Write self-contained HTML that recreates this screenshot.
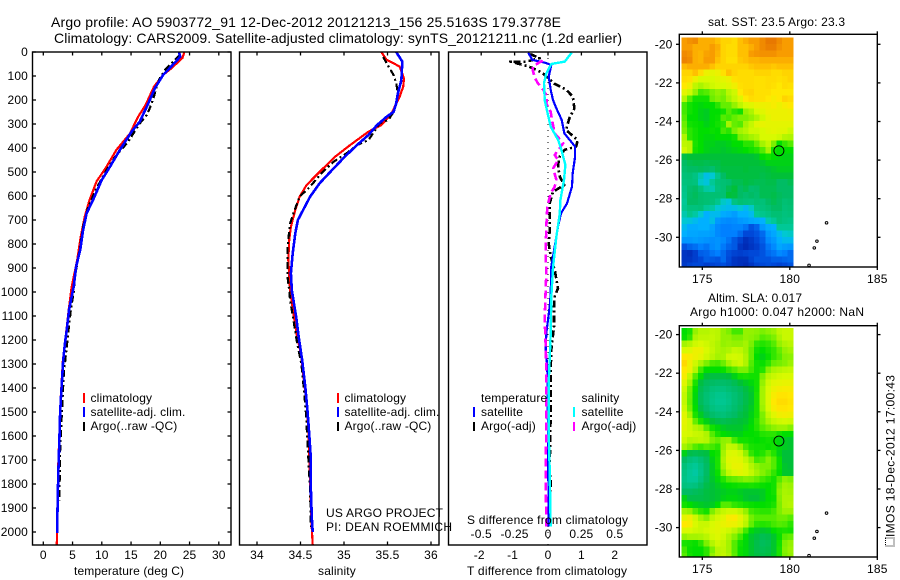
<!DOCTYPE html>
<html lang="en">
<head>
<meta charset="utf-8">
<title>Argo profile 5903772_91</title>
<style>
html,body{margin:0;padding:0;background:#fff;}
svg{display:block;font-family:"Liberation Sans",sans-serif;font-size:12px;fill:#000;letter-spacing:0.15px;}
.t{font-size:14px;letter-spacing:0;}
.fit{letter-spacing:0;}
</style>
</head>
<body>
<svg id="chart" xmlns="http://www.w3.org/2000/svg" width="900" height="580" viewBox="0 0 900 580">
<rect x="0" y="0" width="900" height="580" fill="#fff"/>
<text class="t" x="51" y="27" textLength="510">Argo profile: AO 5903772_91 12-Dec-2012 20121213_156 25.5163S 179.3778E</text>
<text class="t" x="54" y="43" textLength="568">Climatology: CARS2009. Satellite-adjusted climatology: synTS_20121211.nc (1.2d earlier)</text>
<g id="layer"></g>

<g>
<rect x="83" y="393" width="2" height="10" fill="#f00"/>
<text x="90.5" y="402">climatology</text>
<rect x="83" y="407" width="2" height="10" fill="#00f"/>
<text x="90.5" y="416">satellite-adj. clim.</text>
<rect x="83" y="422" width="2" height="9" fill="#000"/>
<text x="90.5" y="430">Argo(..raw -QC)</text>
</g>
<g>
<rect x="337" y="393" width="2" height="10" fill="#f00"/>
<text x="344.5" y="402">climatology</text>
<rect x="337" y="407" width="2" height="10" fill="#00f"/>
<text x="344.5" y="416">satellite-adj. clim.</text>
<rect x="337" y="422" width="2" height="9" fill="#000"/>
<text x="344.5" y="430">Argo(..raw -QC)</text>
</g>
<text class="fit" x="326" y="517" textLength="117">US ARGO PROJECT</text>
<text class="fit" x="326" y="531" textLength="126">PI: DEAN ROEMMICH</text>
<g>
<text x="481" y="402">temperature</text>
<rect x="473" y="407" width="2" height="10" fill="#00f"/>
<text x="481" y="416">satellite</text>
<rect x="473" y="422" width="2" height="9" fill="#000"/>
<text x="481" y="430">Argo(-adj)</text>
<text x="581.5" y="402">salinity</text>
<rect x="573" y="407" width="2" height="10" fill="#0ff"/>
<text x="581.5" y="416">satellite</text>
<rect x="573" y="422" width="2" height="9" fill="#f0f"/>
<text x="581.5" y="430">Argo(-adj)</text>
</g>
<text class="fit" x="74" y="575" textLength="110">temperature (deg C)</text>
<text x="337" y="575" text-anchor="middle">salinity</text>
<text class="fit" x="467" y="524" textLength="161">S difference from climatology</text>
<text class="fit" x="467" y="575" textLength="160">T difference from climatology</text>
<text class="fit" x="708" y="26" textLength="137">sat. SST: 23.5 Argo: 23.3</text>
<text class="fit" x="708" y="302" textLength="94">Altim. SLA: 0.017</text>
<text class="fit" x="690" y="316" textLength="174">Argo h1000: 0.047 h2000: NaN</text>
<g>
<rect x="885.5" y="538" width="8.5" height="8" fill="none" stroke="#000" stroke-width="1" stroke-dasharray="1 1"/>
<text class="fit" transform="translate(894.5 537) rotate(-90)" textLength="162">IMOS 18-Dec-2012 17:00:43</text>
</g>
</svg>
<script>
// ---- temperature panel data ----
const tBlueDepth=[0,20,60,95,150,228,290,332,408,478,533,617,672,742,825,894,978,1075,1160,1215,1285,1370,1450,1520,1615,1730,1825,1950,2005];
const tBlueValue=[23.2,23.4,21.9,20.5,19.1,17.7,16.5,15.1,13.1,11.4,10,8.5,7.4,6.8,6.3,5.6,5.2,4.4,4,3.7,3.4,3.2,3,2.85,2.75,2.6,2.5,2.4,2.4];
const tRedDepth=[0,25,47,68,95,145,220,270,340,408,478,540,617,686,770,867,978,1075,1160,1285,1450,1730,2000,2054];
const tRedValue=[24.1,23.8,22.8,21.9,20.5,18.9,17.5,16.2,14.8,12.5,10.8,9.1,7.9,7.1,6.4,5.8,4.85,4.35,3.95,3.35,2.95,2.55,2.35,2.3];
const tArgoDepth=[12,40,75,110,150,186,228,262,297,374,436,492,568,644,728,825,936,1000,1075,1160,1230,1340,1465,1675,1868];
const tArgoValue=[23.4,22.2,20.8,19.9,19.3,18.9,18.3,17.7,16.5,14.5,12.3,10.8,9.1,7.7,6.8,6.2,5.4,5.2,4.7,4.3,4,3.5,3.25,2.85,2.75];
// ---- salinity panel data ----
const sBlueDepth=[0,40,117,172,214,249,270,304,346,388,436,485,547,603,672,700,755,839,922,992,1105,1190,1285,1395,1495,1590,1685,1825,1940,2000];
const sBlueValue=[35.6,35.67,35.66,35.62,35.6,35.57,35.49,35.38,35.28,35.15,35.01,34.88,34.72,34.61,34.51,34.47,34.44,34.41,34.39,34.4,34.45,34.48,34.52,34.555,34.58,34.6,34.617,34.62,34.63,34.64];
const sRedDepth=[0,33,47,61,110,144,186,214,255,304,332,388,436,492,554,603,658,728,783,867,992,1090,1175,1258,1370,1465,1575,1770,1880,2000,2054];
const sRedValue=[35.43,35.49,35.57,35.64,35.69,35.68,35.64,35.6,35.55,35.43,35.28,35.07,34.9,34.74,34.57,34.49,34.44,34.39,34.37,34.36,34.38,34.42,34.455,34.505,34.54,34.57,34.59,34.61,34.617,34.632,34.64];
const sArgoDepth=[20,47,96,130,172,214,249,283,297,367,388,422,457,505,561,603,651,714,811,936,992,1033,1118,1200,1300,1410,1507,1690,1825,1980];
const sArgoValue=[35.45,35.49,35.57,35.6,35.62,35.6,35.57,35.51,35.41,35.28,35.15,35.03,34.88,34.74,34.61,34.49,34.44,34.38,34.35,34.35,34.37,34.38,34.42,34.455,34.51,34.54,34.563,34.59,34.61,34.62];
// ---- difference panel data ----
const dtSatDepth=[3,33,44,54,103,158,200,235,283,339,394,436,506,561,631,672,728,811,894,1006,1061,1172,1241,1311,1589,1977];
const dtSatValue=[-0.59,-0.47,-0.1,0.1,0.02,0.08,0.15,0.25,0.41,0.49,0.81,0.81,0.74,0.72,0.57,0.39,0.3,0.2,0.1,0.08,0.05,-0.05,-0.07,-0.02,0,0.02];
const dsSatDepth=[3,40,50,89,130,200,249,311,367,408,471,533,617,672,769,894,1019,1172,1380,1589,1727,1977];
const dsSatValue=[0.177,0.126,0.025,-0.013,-0.03,-0.025,-0.005,0.02,0.076,0.1,0.13,0.12,0.093,0.088,0.063,0.038,0.025,0.02,0.005,0.005,0.012,0.02];
const dsArgoDepth=[36,58,75,110,130,155,186,214,249,283,339,380,429,450,485,533,561,589,644,728,839,922,1033,1116,1214,1311,1589,1727,1977];
const dsArgoValue=[-0.04,-0.11,-0.115,-0.096,-0.076,-0.038,-0.005,-0.013,0.02,0.03,0.05,0.114,0.05,0.076,0.038,0.063,0.05,0.02,-0.005,-0.013,-0.018,-0.013,-0.02,-0.025,-0.018,-0.013,-0.013,-0.018,-0.013];
const dtArgoDepth=[8,26,40,40,58,68,89,133,156,186,235,276,325,367,394,408,436,471,519,554,582,631,686,742,797,853,908,985,1019,1061,1144,1241,1325,1491,1741,1797,1866,1977];
const dtArgoValue=[-0.54,-0.25,-0.64,-1.13,-0.64,-0.44,-0.15,0.2,0.54,0.74,0.79,0.64,0.54,0.89,0.84,0.49,0.35,0.3,0.35,0.49,0.15,0.05,0.05,0.05,0.02,0.08,0.2,0.3,0.2,0.18,0.18,0.1,0.08,0.08,0.05,0.08,0.06,0.05];
// ---- ticks ----
const depthTicks=[0,100,200,300,400,500,600,700,800,900,1000,1100,1200,1300,1400,1500,1600,1700,1800,1900,2000];
const tempTicks=[0,5,10,15,20,25,30];
const salTicks=[34,34.5,35,35.5,36];
const dtTicks=[-2,-1,0,1,2];
const dtTickLabels=["-2","-1","0","1","2"];
const dsTicks=[-0.5,-0.25,0,0.25,0.5];
const dsTickLabels=["-0.5","-0.25","0","0.25","0.5"];
const lonTicks=[175,180,185];
const latTicks=[20,22,24,26,28,30];
// ---- profile location and islands ----
const argoLon=179.3778;
const argoLat=25.5163;
const islandLon=[182.1,181.55,181.4,181.1];
const islandLat=[29.25,30.2,30.55,31.45];
// ---- SST map values (colour-scale units, north to south) ----
const sstRows=[
[12,12.3,12.5,11.5,11.5,11.5,11,10.5,10.5,10.3,11,11.5,12,12,12.5,13,13,12.5,12,12],
[12,12,11.5,11.5,11.5,12,11.5,10.5,10.3,10.3,11,11,11.5,12,12.5,12.8,12.8,12.3,12,12],
[12.5,12.3,11.5,11.3,11.8,12,11.3,10.5,10.3,10.3,11,11,12,12.2,12.3,12.3,12.3,12,12,12],
[12.7,12.5,11.5,11.3,12,12,11,10.5,10.2,10.2,10.8,11,11.3,11.3,11.5,11.5,11.5,11.5,11.5,11.5],
[11.2,11.5,11.5,11.5,11.5,11,10.5,10.5,10.5,10.5,10.5,10.5,10.8,11,11,11,10.8,11,11,11],
[10.5,10.5,11,10.3,9.5,9.3,9.5,10.2,11,10.5,10.3,10.3,10.3,10.5,10.5,10.5,10.3,10.3,10.5,10.5],
[10.3,10.2,9.5,9,9,9,9.2,9.3,9.5,10.2,10.3,10.3,10.3,10.2,10.2,10.3,10.3,10.2,10.3,10.5],
[10,9.6,8.5,8.1,8.5,8.8,9,9,9.2,9.6,10.2,10.3,10.3,10.2,10.2,10.3,10.2,10,10.3,10.2],
[9.3,8.8,7.8,6.8,7,7.5,7.8,7.6,8.4,8.8,10,10.4,10.5,10.2,10.2,10.2,10,10,10,10],
[8.3,7,6.2,6.2,6.2,7.3,7.6,7.4,8,8.6,9.2,10,10.3,10.2,10.2,10,9.8,10,10.5,10.3],
[6.8,6.2,6,5.9,6,6,6.5,7.2,7.2,7.8,8.5,9,9.2,9.5,9.5,9.6,9.8,9.5,9.8,10],
[6.8,6.2,6,5.8,5.7,6,6,6.2,7,6.5,6.2,7.8,8.2,9,9.2,9.5,9.5,9.5,9.5,9.6],
[7,6,6,5.8,5.7,6,6.1,7,6.8,7.2,7.5,7.5,7.8,8.2,8.8,9.3,9.5,9.5,9.5,9.5],
[7.3,6.2,6.1,6,5.8,6,6.2,6.5,8,7.2,7,8,8.6,9.2,9.4,9.3,9.3,9.3,9.3,9.3],
[7.5,6.5,6.2,6,6,6.1,6,6.8,6.5,7.5,8,8.3,8.8,8.8,9,9.2,9.3,9.2,9.2,8.8],
[8.2,6.5,6.2,6,5.9,5.9,6,6,6,6.2,7.5,7.7,8,8.3,9,9,9,8.8,8.3,8.2],
[8.5,8.3,6.3,6,5.8,5.8,5.7,5.7,5.8,6,6,6.5,6.5,7.2,8,8.6,7.5,6,6.6,7],
[8.8,8.3,6.2,6,5.8,5.7,5.7,5.6,5.7,5.8,5.9,6,6.2,6.4,7,8,6.2,6,6,6],
[5.3,5.5,5.5,5.5,5.5,5.5,5.5,5.5,5.5,5.5,5.5,5.5,5.5,5.6,6,6.2,6,5.9,5.8,5.8],
[5,5.2,5.3,5.3,5.2,5.3,5.3,5.5,5.5,5.5,5.5,5.5,5.5,5.5,5.6,5.8,5.8,5.8,5.8,5.8],
[4.8,5,5,5.1,5,4.8,5.2,5.4,5.4,5.4,5.4,5.5,5.4,5.4,5.4,5.5,5.6,5.7,5.7,5.7],
[4.6,4.7,4.4,3.8,3.3,3.5,4.2,5,5.4,5.4,5.4,5.4,5.4,5.4,5.3,5.4,5.5,5.5,5.5,5.5],
[4.5,4.6,4.5,3.6,3.4,4,4.6,4.7,4.8,5.2,5.2,5.4,5.3,5.2,5.2,5.3,5.3,5,5,5.2],
[4.3,4.8,5,4.5,3.9,3.8,4.5,4.7,5.2,5.5,5,5.2,4.8,4.9,5.2,5.2,5.2,5,5,5],
[4.2,4.9,5.1,4.8,4.7,4.7,4.7,4.7,5.5,5.4,5,4.8,5,4.8,5.2,5.2,5.3,5.1,5,5],
[4,5,5,4.8,4.7,4.6,4.2,3.6,3.4,4.4,4.7,4.6,4.5,4.7,4.6,5,5.2,5,4.7,4.8],
[4.1,4.5,4.5,4.6,4,3.9,3.5,3.3,3.2,3.3,3.5,3.2,3.6,4.4,4.5,4.7,5,5,4.6,4.7],
[3.8,4.2,3.9,3.5,3,3.2,3.2,2.9,2.8,2.6,3,3,3.2,4,4.2,4.4,4.7,4.7,4.5,4.6],
[3.5,3.4,3.2,3,3,3.3,2.5,2.3,2.2,2.3,2.5,2.6,2.8,2.9,3,3.8,4,4.6,4.4,4.3],
[3.2,2.9,2.9,3,3,2.7,2.2,2,2,2.1,2.1,1.8,1.2,1.5,2.5,2.9,3,4,4,4],
[3,2.8,2.8,2.7,2.7,2.6,2.2,2,2,2,1.6,1,1,1.2,1.6,2.5,2.8,3.2,3.5,3.6],
[2.5,2.5,2.6,2.5,2.4,2.3,2.4,2.2,1.8,1.3,0.9,0.5,0.7,1,1.4,2.2,2.5,3,3.2,3.2],
[1.2,1.5,1.7,2,1.8,2.2,2.4,1.9,1.5,1.3,0.6,0.4,0.6,0.8,1.2,1.8,2.2,2.8,2.6,2.5],
[0.6,0.5,0.8,1.4,1.5,1.8,2,1.6,1.1,0.9,0.8,0.9,1,1,1.2,1.6,1.8,2.2,2,1.6],
[0.6,0.6,0.8,1,1.4,1.3,1.2,1.6,1,0.6,0.5,0.5,0.9,1.2,1.2,1.2,1.4,1.4,1.5,1.6],
[0.7,0.9,1,1,0.8,0.9,1,1.1,0.9,0.6,0.5,0.4,0.6,0.9,1,1.1,1,0.9,1,1.2]
];
// ---- SLA map values (colour-scale units, north to south) ----
const slaRows=[
[6,6.3,7.8,8.3,8.3,8.5,8.4,7.8,7.5,6.8,6.8,7.8,7.8,7.7,7.5,7.7,7.9,8.5,8.7,8.7],
[6.1,6.6,8.2,8.5,8.5,8.6,8.4,7.8,7.8,7.5,7.5,7.8,7.7,7.5,7,7.2,7.5,8.2,8.7,8.7],
[8,8.3,8.8,9,8.8,8.5,8.2,7.8,7.9,7.8,7.8,8,7.5,6.6,6.4,6.6,7,7.8,8.2,8.4],
[9,9.1,9.5,9.5,9,8.6,8.2,8,8.2,8.6,8.5,8,7.2,6.2,6,6.3,6.6,7.2,7.8,8],
[10,9.8,9.5,9.3,8.8,8.4,8,8.1,8.8,8.9,8.8,8.2,7.2,6,5.8,6.1,6.6,7,7.6,7.7],
[10.4,9.6,8.8,8.1,7.5,6.9,6.8,7.3,8,8.6,8.8,8.2,7,6.2,6.1,6.5,7.2,7.4,7.6,7.9],
[10,9.5,8.3,6.8,6,6,6,6.1,6.6,7,7.5,7.5,6.8,6.2,6.4,7.6,8.1,8.3,8.5,8.6],
[9.8,8.6,7,6,5.5,5.4,5.4,5.4,5.5,5.8,6.2,6.3,6.2,6.2,7.5,8.4,8.7,8.9,9,9],
[9.2,8,6.3,5.4,5.1,5,4.9,4.9,5,5.2,5.5,5.7,5.9,6.2,7.8,8.8,9.2,9.3,9.4,9.4],
[8.8,7.4,6,5.2,4.9,4.6,4.5,4.5,4.7,4.9,5.1,5.4,5.7,6.2,8,9,9.5,9.7,9.8,9.8],
[8.6,7.3,5.9,5.1,4.7,4.4,4.2,4.2,4.4,4.7,5,5.3,5.6,6.3,8,9.1,9.8,10.1,10.1,10],
[8.6,7.2,5.9,5.1,4.7,4.3,4.1,4.1,4.3,4.7,5,5.3,5.6,6.3,8,9.1,10,10.3,10.3,10.1],
[8.8,7.4,6,5.3,4.9,4.5,4.3,4.3,4.5,4.8,5.1,5.4,5.7,6.3,7.9,9,9.8,10.1,10.1,10],
[9.2,8,6.3,5.7,5.2,4.9,4.7,4.6,4.8,5,5.3,5.5,5.8,6.3,7.5,8.6,9.2,9.6,9.7,9.6],
[9.3,8.8,7.2,6.3,5.8,5.5,5.3,5.2,5.3,5.4,5.5,5.6,5.9,6.5,7.4,8.1,8.6,8.8,8.9,8.8],
[9.2,8.8,8.3,8,7,6.2,5.9,5.7,5.6,5.6,5.6,5.8,6,6.4,7,7.4,7.7,7.9,7.9,7.6],
[9,8.9,8.7,8.6,8.2,7,6.3,6,5.9,5.8,5.8,6,6,6.1,6.4,6.5,6.5,6.2,6,6],
[8.8,8.3,8.4,8.5,8.3,7.5,7.2,7.7,7.8,6.8,6.2,6.2,6.1,6,6.1,6.2,6.1,5.9,5.7,5.6],
[8,7.6,7,6.7,7,6.8,6.5,7.8,8.6,8.5,7.8,6.8,6.3,6.2,6.2,6.1,6.2,5.9,5.7,5.6],
[5.8,5.3,5.2,5.3,5.4,6,6.2,8,9,9.1,8.8,7.8,6.6,6.2,6.4,6.9,6.4,5.8,5.5,5.5],
[5,4.6,4.4,4.7,5.1,5.8,6.3,8.2,9.2,9.3,9.2,8.6,7.8,6.8,7,7.6,7,6.1,5.5,5.5],
[4.6,4.2,4,4.4,5,5.7,6.3,8,9,9.4,9.4,9,8.3,7.8,7.5,7.5,7,6.1,5.6,5.5],
[4.4,4,3.9,4.3,5,5.7,6.1,7.6,8.6,9,9.2,9,8.6,8,7.6,7.2,6.6,6,5.6,5.6],
[4.3,4,4,4.5,5.1,5.6,5.9,6.4,7,7.2,7.4,7.6,7.5,7.2,6.8,6.5,6.2,7,7.7,7.5],
[4.5,4.4,4.5,4.9,5.3,5.5,5.7,5.9,6,6.1,6.2,6.2,6.3,6.2,6.1,6,6.2,7.5,8,7.9],
[5,5,5.1,5.2,5.4,5.5,5.6,5.7,5.8,5.8,5.7,5.6,5.6,5.6,5.7,6,6.2,7.7,8.1,8],
[5.8,5.3,5.3,5.3,5.4,5.5,5.6,5.8,5.9,5.9,5.8,5.6,5.5,5.5,5.7,6,6.1,7.6,8.2,8.2],
[6.2,6,5.8,5.7,5.6,5.7,6,7,7,6.6,6.4,6.2,6.1,6,6,6.1,6.3,7.5,8.2,8.3],
[8,7.8,7,6.5,6.2,7.5,8.2,8.6,8.8,8.8,8.5,7.8,6.8,6.6,6.5,6.5,6.8,7.5,7.9,7.9],
[9.3,9.6,8.8,8,7.6,8.5,8.9,9.2,9.8,9.9,9.3,8.6,7.4,7,7,7,7,7.3,7.3,7],
[10,9.8,9,8.7,8.7,9,9.2,9.4,9.6,9.5,9.1,8.4,7.2,6.5,6.4,6.5,6.8,7,6.9,6.5],
[9.1,9,8.8,8.7,8.9,9.1,9.2,9,8.8,8.4,7.8,6.8,5.9,5.7,5.6,5.7,6,6.2,6.3,6.2],
[7.8,8,8,8.1,8.4,8.9,9.1,8.8,8.2,7.6,6.8,6,5.6,5.4,5.2,5.3,5.6,6.1,7,7.2],
[6.3,6.2,6.1,6.5,7.5,8.3,8.8,8.6,8,7,6.2,5.9,5.6,5.3,5.1,5.2,5.6,6.2,7.5,7.8],
[6.8,6.1,6,6,6.5,7.5,8.4,8.5,8,7,6.1,5.9,5.6,5.3,5.2,5.3,5.6,6.3,7.6,7.9],
[7,6.2,6,6,6.5,7.8,8.4,8.6,8.2,7.1,6.1,5.9,5.6,5.4,5.3,5.4,5.7,6.3,7.5,7.8]
];

const NS='http://www.w3.org/2000/svg';
const layer=document.getElementById('layer');
function make(tag,attrs,parent){
  const el=document.createElementNS(NS,tag);
  for(const k in attrs){el.setAttribute(k,attrs[k]);}
  (parent||layer).appendChild(el);
  return el;
}
// axis functions
const yDepth=d=>52+0.24*d;
const xTemp=v=>43.3+5.85*v;
const xSal=v=>257+87*(v-34);
const xDT=v=>548+33.4*v;
const xDS=v=>548+133.6*v;

function drawLine(name,depths,values,xf,color,width,dash){
  const pts=depths.map((d,i)=>xf(values[i]).toFixed(1)+','+yDepth(d).toFixed(1)).join(' ');
  const el=make('polyline',{points:pts,fill:'none',stroke:color,'stroke-width':width,'shape-rendering':'crispEdges','stroke-linejoin':'round'});
  if(dash){el.setAttribute('stroke-dasharray',dash);}
  
  
}
function seg(name,x1,y1,x2,y2){
  const el=make('line',{x1:x1,y1:y1,x2:x2,y2:y2,stroke:'#000','stroke-width':1.3});
  
  
}
function label(name,x,y,txt,anchor){
  const el=make('text',{x:x,y:y,'text-anchor':anchor||'middle'});
  el.textContent=txt;
  
  
}
function box(name,l,t,r,b){
  const el=make('rect',{x:l,y:t,width:r-l,height:b-t,fill:'none',stroke:'#000','stroke-width':1.4});
  
  
}
const TOP=52,BOT=545;

// panel 1: temperature
drawLine('temperature-climatology-line',tRedDepth,tRedValue,xTemp,'#f00',2.2);
drawLine('temperature-argo-line',tArgoDepth,tArgoValue,xTemp,'#000',2.2,'7 3 2 3');
drawLine('temperature-satellite-line',tBlueDepth,tBlueValue,xTemp,'#00f',2.6);
box('temperature-panel-frame',32.5,TOP,231,BOT);
depthTicks.forEach(d=>{
  seg('depth-tick',32.5,yDepth(d),36,yDepth(d));
  seg('depth-tick-right',227.5,yDepth(d),231,yDepth(d));
  label('depth-tick-label',28,yDepth(d)+4,String(d),'end');
});
tempTicks.forEach(v=>{
  seg('temperature-tick-top',xTemp(v),TOP,xTemp(v),TOP+3.5);
  seg('temperature-tick-bottom',xTemp(v),BOT,xTemp(v),BOT-3.5);
  label('temperature-tick-label',xTemp(v),559,String(v));
});

// panel 2: salinity
drawLine('salinity-climatology-line',sRedDepth,sRedValue,xSal,'#f00',2.2);
drawLine('salinity-argo-line',sArgoDepth,sArgoValue,xSal,'#000',2.2,'7 3 2 3');
drawLine('salinity-satellite-line',sBlueDepth,sBlueValue,xSal,'#00f',2.6);
box('salinity-panel-frame',239.5,TOP,439,BOT);
salTicks.forEach(v=>{
  seg('salinity-tick-top',xSal(v),TOP,xSal(v),TOP+3.5);
  seg('salinity-tick-bottom',xSal(v),BOT,xSal(v),BOT-3.5);
  label('salinity-tick-label',xSal(v),559,String(v));
});

// panel 3: differences
const zeroLine=make('line',{x1:xDT(0),y1:TOP,x2:xDT(0),y2:BOT,stroke:'#000','stroke-width':1,'stroke-dasharray':'1 5'});


drawLine('t-difference-argo-line',dtArgoDepth,dtArgoValue,xDT,'#000',2.6,'7 3 2 3');
drawLine('t-difference-satellite-line',dtSatDepth,dtSatValue,xDT,'#00f',2.2);
drawLine('s-difference-argo-line',dsArgoDepth,dsArgoValue,xDS,'#f0f',2.6,'8 4');
drawLine('s-difference-satellite-line',dsSatDepth,dsSatValue,xDS,'#0ff',2.4);
box('difference-panel-frame',448.5,TOP,647,BOT);
dtTicks.forEach((v,i)=>{
  seg('t-difference-tick',xDT(v),TOP,xDT(v),TOP+3.5);
  label('t-difference-tick-label',xDT(v)-(v<0?2:0),559,dtTickLabels[i]);
});
dsTicks.forEach((v,i)=>{
  label('s-difference-tick-label',xDS(v),538,dsTickLabels[i]);
});

// maps
const stopVals=[0,1,2,3,3.5,4,5,5.5,6,7,8,9,10,11,12,13];
const stopCols=[[0,24,160],[0,72,216],[0,128,255],[0,176,255],[0,200,210],[0,200,150],[0,188,100],[0,192,56],[0,222,0],[84,236,0],[164,244,0],[216,250,0],[255,232,0],[255,192,0],[248,156,0],[232,120,0]];
function colour(v){
  let i=0;
  while(i<stopVals.length-2&&v>stopVals[i+1]){i++;}
  const f=Math.max(0,Math.min(1,(v-stopVals[i])/(stopVals[i+1]-stopVals[i])));
  const c=stopCols[i].map((a,k)=>Math.round(a+(stopCols[i+1][k]-a)*f));
  return 'rgb('+c.join(',')+')';
}
function drawMap(prefix,rows,lat20y,top,bottom){
  const xLon=lon=>702.3+17.5*(lon-175);
  const yLat=lat=>lat20y+19.3*(lat-20);
  const lonStart=173.8,lonStep=0.32,latStart=19.65,latStep=1/3;
  rows.forEach((row,r)=>{
    row.forEach((v,c)=>{
      const last=c===row.length-1;
      const x0=xLon(lonStart+c*lonStep),x1=xLon(lonStart+(c+1)*lonStep)+(last?0:0.7);
      const y0=yLat(latStart+r*latStep),y1=Math.min(bottom,yLat(latStart+(r+1)*latStep)+0.7);
      const cell=make('rect',{x:x0.toFixed(2),y:y0.toFixed(2),width:(x1-x0).toFixed(2),height:(y1-y0).toFixed(2),fill:colour(v),'shape-rendering':'crispEdges'});
      
      
    });
  });
  islandLon.forEach((lon,i)=>{
    const isl=make('ellipse',{cx:xLon(lon),cy:yLat(islandLat[i]),rx:1.3,ry:1.2,fill:'none',stroke:'#000','stroke-width':1});
    
    
  });
  const mark=make('circle',{cx:xLon(argoLon),cy:yLat(argoLat),r:5,fill:'none',stroke:'#000','stroke-width':0.9});
  
  
  box(prefix+'-frame',679.3,top,877.3,bottom);
  lonTicks.forEach(lon=>{
    seg(prefix+'-lon-tick-top',xLon(lon),top,xLon(lon),top-3);
    seg(prefix+'-lon-tick-bottom',xLon(lon),bottom,xLon(lon),bottom+3);
    label(prefix+'-lon-tick-label',xLon(lon),bottom+16,String(lon));
  });
  latTicks.forEach(lat=>{
    seg(prefix+'-lat-tick-left',679.3,yLat(lat),676,yLat(lat));
    seg(prefix+'-lat-tick-right',877.3,yLat(lat),880.5,yLat(lat));
    label(prefix+'-lat-tick-label',672.5,yLat(lat)+4,'-'+lat,'end');
  });
}
drawMap('sst-map',sstRows,44.3,34.3,267);
drawMap('sla-map',slaRows,334.6,325.7,557);
</script>
</body>
</html>
